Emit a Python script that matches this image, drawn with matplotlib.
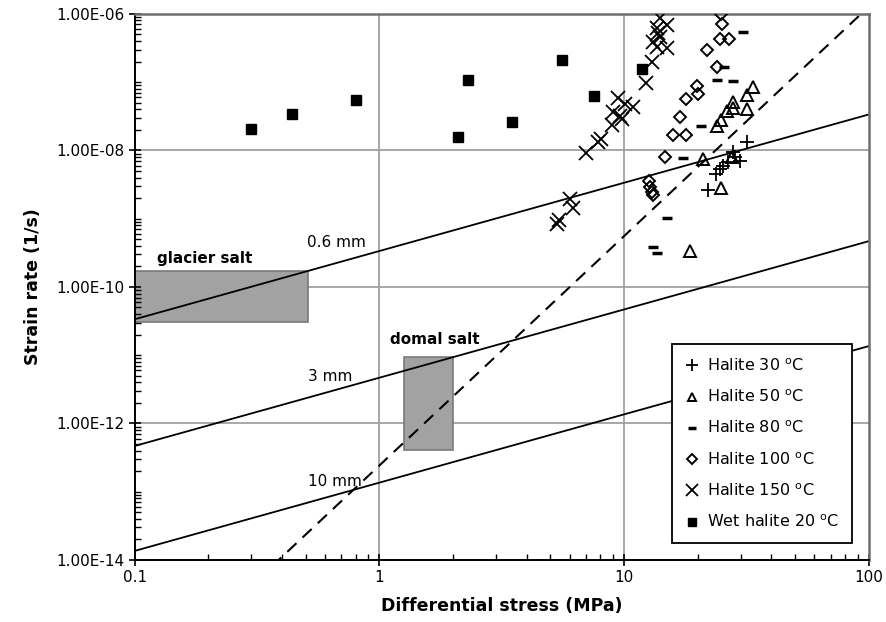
import matplotlib
matplotlib.use("Agg")
import matplotlib.pyplot as plt
import matplotlib.ticker as mticker
from matplotlib.patches import Rectangle
import numpy as np

# Meetpunten: differentiaalspanning (MPa) en reksnelheid (1/s)
halite30_stress = [31.8, 27.9, 28.4, 29.8, 26.6, 25.4, 24.7, 23.8, 22.0]
halite30_rate = [1.32e-8, 9.4e-9, 8.0e-9, 7.0e-9, 6.7e-9, 5.9e-9, 5.3e-9, 4.5e-9, 2.6e-9]

halite50_stress = [33.7, 31.8, 27.9, 27.9, 26.4, 31.8, 24.9, 24.0, 21.0, 27.6, 24.9, 18.6]
halite50_rate = [8.45e-8, 6.45e-8, 5.1e-8, 4.2e-8, 3.76e-8, 4.0e-8, 2.78e-8, 2.27e-8,
                 7.5e-9, 8.0e-9, 2.8e-9, 3.36e-10]

halite80_stress = [30.6, 25.6, 24.0, 27.9, 20.6, 17.4, 15.0, 13.1, 13.6]
halite80_rate = [5.4e-7, 1.66e-7, 1.07e-7, 1.04e-7, 2.27e-8, 7.7e-9, 1.02e-9, 3.8e-10, 3.1e-10]

halite100_stress = [24.9, 25.1, 24.7, 26.9, 21.8, 24.0, 19.9, 20.0, 17.9, 16.9, 15.9, 17.9,
                    14.7, 12.6, 12.8, 13.0, 13.1]
halite100_rate = [9.9e-7, 7.1e-7, 4.3e-7, 4.3e-7, 2.95e-7, 1.66e-7, 8.7e-8, 6.7e-8, 5.6e-8,
                  3.1e-8, 1.67e-8, 1.67e-8, 8.0e-9, 3.55e-9, 2.9e-9, 2.45e-9, 2.2e-9]

halite150_stress = [14.0, 15.0, 13.6, 13.8, 14.0, 13.1, 13.6, 15.0, 13.0, 12.3, 9.45, 10.1,
                    10.9, 9.0, 9.6, 9.8, 8.9, 8.05, 7.8, 7.0, 6.0, 6.2, 5.4, 5.3]
halite150_rate = [8.65e-7, 6.8e-7, 6.2e-7, 5.2e-7, 4.6e-7, 3.85e-7, 3.25e-7, 3.15e-7, 1.96e-7,
                  9.7e-8, 5.8e-8, 4.8e-8, 4.3e-8, 3.6e-8, 3.2e-8, 2.9e-8, 2.35e-8, 1.46e-8,
                  1.32e-8, 9.1e-9, 1.94e-9, 1.43e-9, 9.5e-10, 8.3e-10]

wet_stress = [0.30, 0.44, 0.80, 2.10, 2.31, 3.49, 5.58, 7.55, 11.8]
wet_rate = [2.08e-8, 3.45e-8, 5.5e-8, 1.59e-8, 1.08e-7, 2.64e-8, 2.12e-7, 6.3e-8, 1.57e-7]

# Korrelgrootte-lijnen: log10(rate) = intercept + slope * log10(stress)
grain_labels = ["0.6 mm", "3 mm", "10 mm"]
grain_intercepts = [-9.474, -11.33, -12.867]
grain_slope = 1.0
grain_label_pos = [(0.67, 4.5e-10), (0.63, 4.95e-12), (0.66, 1.39e-13)]

# Gestreepte lijn (dislocatiekruip)
disl_intercept = -12.616
disl_slope = 3.36

# Natuurlijke zoutgebieden
region_names = ["glacier salt", "domal salt"]
region_stress = [(0.1, 0.51), (1.26, 2.0)]
region_rate = [(3.1e-11, 1.73e-10), (4.1e-13, 9.4e-12)]
region_label_pos = [(0.194, 2.65e-10), (1.69, 1.67e-11)]

y_ticks = [1e-14, 1e-12, 1e-10, 1e-8, 1e-6]
x_ticks = [0.1, 1, 10, 100]
x_tick_labels = ['0.1', '1', '10', '100']


def main():
    plt.rcParams['font.family'] = ['DejaVu Sans']
    fig = plt.figure(figsize=(8.86, 6.22), dpi=100)
    ax = fig.add_axes([0.152, 0.0997, 0.8285, 0.878])
    ax.set_xscale('log')
    ax.set_yscale('log')
    ax.set_xlim(0.1, 100)
    ax.set_ylim(1e-14, 1e-6)

    # rasterlijnen
    for xv in x_ticks[1:-1]:
        ax.axvline(xv, color='#a0a0a0', lw=1.3, zorder=0)
    for yv in y_ticks[1:-1]:
        ax.axhline(yv, color='#a0a0a0', lw=1.3, zorder=0)

    # zoutgebieden
    for name, (s0, s1), (r0, r1), (lx, ly) in zip(region_names, region_stress, region_rate, region_label_pos):
        ax.add_patch(Rectangle((s0, r0), s1 - s0, r1 - r0, facecolor='#a2a2a2',
                               edgecolor='#7a7a7a', lw=1.2, zorder=1))
        ax.text(lx, ly, name, fontsize=11, fontweight='bold', ha='center', va='center')

    xs = np.logspace(-1, 2, 50)
    for lab, b, (lx, ly) in zip(grain_labels, grain_intercepts, grain_label_pos):
        ax.plot(xs, 10 ** (b + grain_slope * np.log10(xs)), color='black', lw=1.3, zorder=2)
        ax.text(lx, ly, lab, fontsize=11, ha='center', va='center')

    ax.plot(xs, 10 ** (disl_intercept + disl_slope * np.log10(xs)), color='black', lw=1.5,
            dashes=(6, 4), zorder=2)

    # meetpunten
    ax.plot(halite30_stress, halite30_rate, '+', color='black', ms=10, mew=1.3, ls='none',
            label='Halite 30 $^{\\mathrm{o}}$C', zorder=3)
    ax.plot(halite50_stress, halite50_rate, '^', mfc='none', mec='black', ms=8, mew=1.4, ls='none',
            label='Halite 50 $^{\\mathrm{o}}$C', zorder=3)
    ax.plot(halite80_stress, halite80_rate, '_', color='black', ms=7, mew=2.5, ls='none',
            label='Halite 80 $^{\\mathrm{o}}$C', zorder=3)
    ax.plot(halite100_stress, halite100_rate, 'D', mfc='none', mec='black', ms=6.5, mew=1.4, ls='none',
            label='Halite 100 $^{\\mathrm{o}}$C', zorder=3)
    ax.plot(halite150_stress, halite150_rate, 'x', color='black', ms=10, mew=1.3, ls='none',
            label='Halite 150 $^{\\mathrm{o}}$C', zorder=3)
    ax.plot(wet_stress, wet_rate, 's', color='black', ms=7, ls='none',
            label='Wet halite 20 $^{\\mathrm{o}}$C', zorder=3)

    leg = ax.legend(loc='lower right', bbox_to_anchor=(0.977, 0.031), fontsize=11.5,
                    frameon=True, fancybox=False, edgecolor='black', framealpha=1,
                    labelspacing=0.92, handlelength=0.9, handletextpad=0.5, borderpad=0.8,
                    borderaxespad=0, markerscale=0.8)
    leg.get_frame().set_linewidth(1.3)
    leg.set_zorder(5)

    # assen
    ax.yaxis.set_major_locator(mticker.FixedLocator(y_ticks))
    ax.yaxis.set_major_formatter(mticker.FuncFormatter(lambda v, p: f"{v:.2E}"))
    ax.yaxis.set_minor_locator(mticker.LogLocator(base=10, subs=np.arange(1, 10), numticks=20))
    ax.yaxis.set_minor_formatter(mticker.NullFormatter())
    ax.xaxis.set_major_locator(mticker.FixedLocator(x_ticks))
    ax.xaxis.set_major_formatter(mticker.FixedFormatter(x_tick_labels))
    ax.xaxis.set_minor_locator(mticker.LogLocator(base=10, subs=np.arange(2, 10), numticks=20))
    ax.xaxis.set_minor_formatter(mticker.NullFormatter())
    ax.tick_params(which='major', direction='inout', length=8, width=1.2, labelsize=11)
    ax.tick_params(which='minor', direction='in', length=4, width=1.0)
    ax.tick_params(top=False, right=False, which='both')

    for side in ['left', 'bottom']:
        ax.spines[side].set_color('black')
        ax.spines[side].set_linewidth(1.4)
    for side in ['top', 'right']:
        ax.spines[side].set_color('#6e6e6e')
        ax.spines[side].set_linewidth(1.8)

    ax.set_xlabel('Differential stress (MPa)', fontsize=12.5, fontweight='bold', labelpad=8)
    ax.set_ylabel('Strain rate (1/s)', fontsize=12.5, fontweight='bold', labelpad=10)

    fig.savefig('out.png', dpi=100)


if __name__ == "__main__":
    main()
